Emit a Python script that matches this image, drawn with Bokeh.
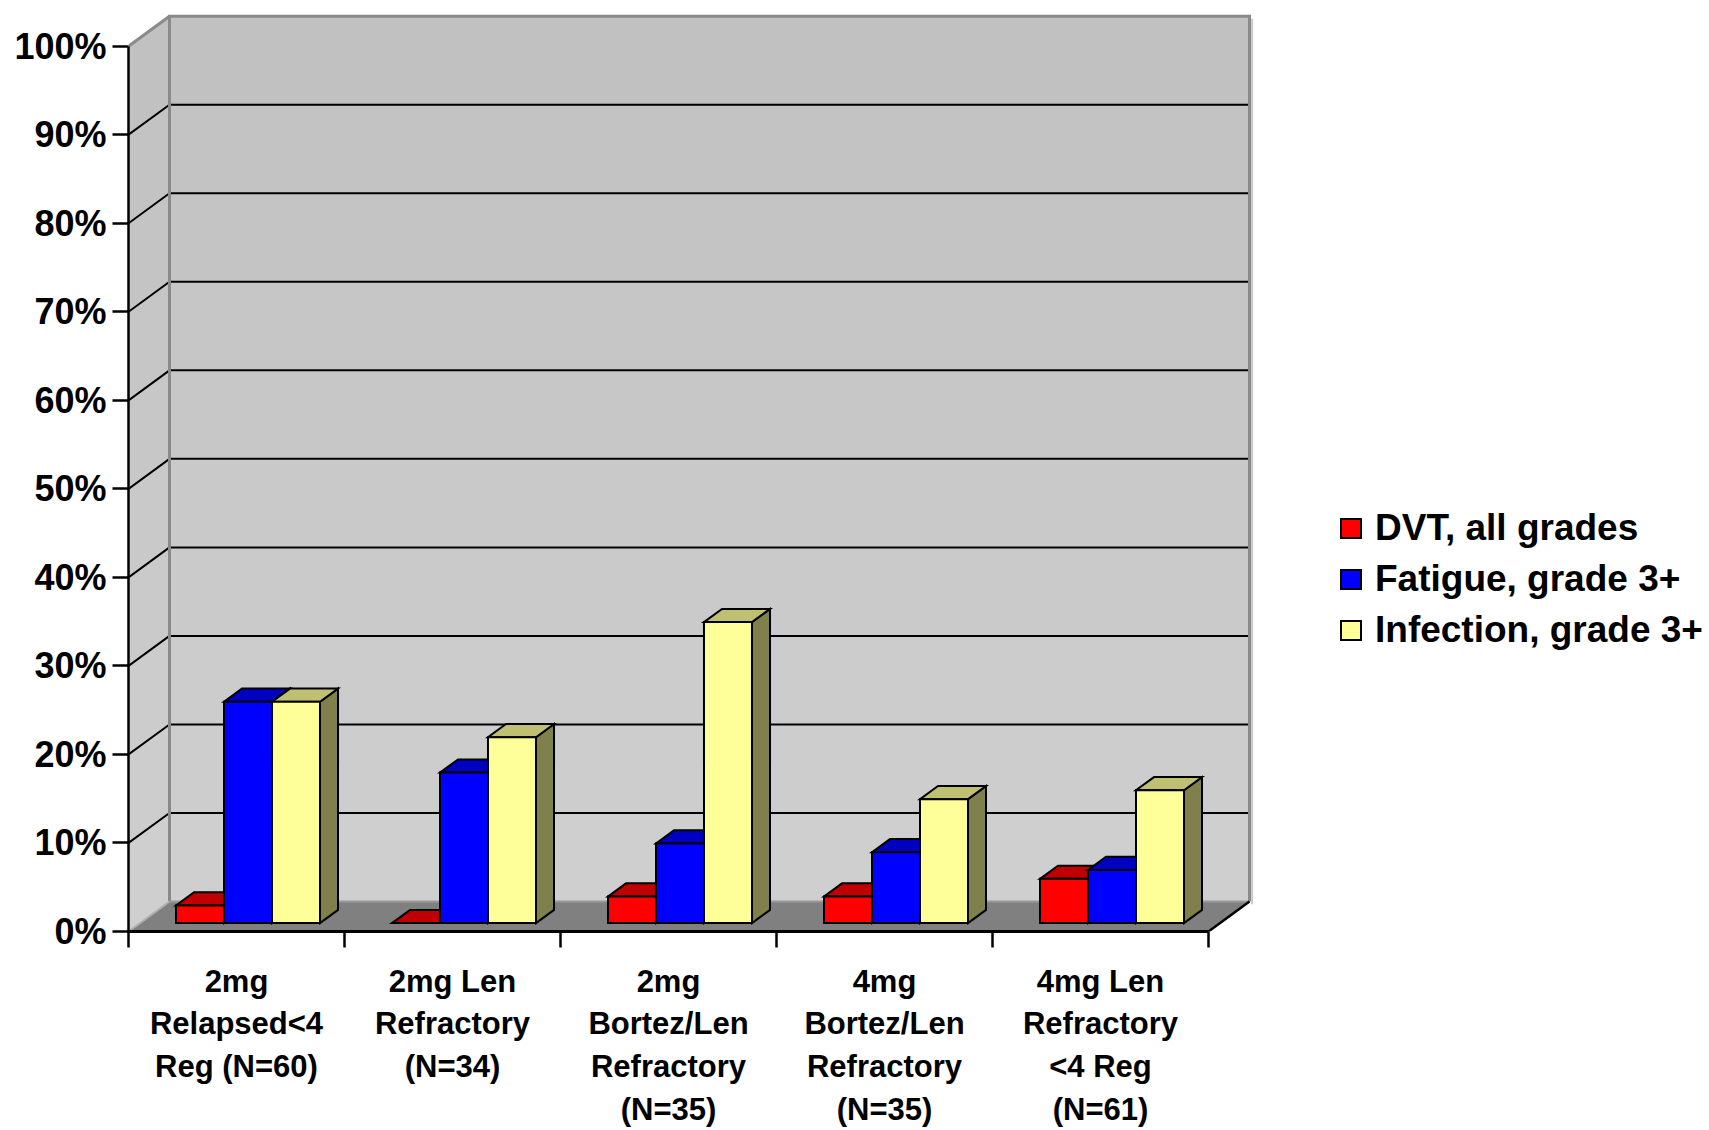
from bokeh.plotting import figure
from bokeh.models import (ColumnDataSource, FixedTicker, Legend, LegendItem,
                          LinearAxis, Range1d)
from bokeh.embed import file_html
from bokeh.resources import INLINE

# ---- data -------------------------------------------------------------
categories = [
    "2mg\nRelapsed<4\nReg (N=60)",
    "2mg Len\nRefractory\n(N=34)",
    "2mg\nBortez/Len\nRefractory\n(N=35)",
    "4mg\nBortez/Len\nRefractory\n(N=35)",
    "4mg Len\nRefractory\n<4 Reg\n(N=61)",
]
dvt = [2, 0, 3, 3, 5]
fatigue = [25, 17, 9, 8, 6]
infection = [25, 21, 34, 14, 15]
series_names = ["DVT, all grades", "Fatigue, grade 3+", "Infection, grade 3+"]
y_ticks = [0, 10, 20, 30, 40, 50, 60, 70, 80, 90, 100]

# ---- styling ----------------------------------------------------------
front_colors = ["#FF0000", "#0000FF", "#FFFF99"]
top_colors = ["#C00000", "#0000C0", "#C0C073"]
side_colors = ["#800000", "#000080", "#80804D"]
FONT = "Liberation Sans"

W, H = 1709, 1130
LEFT = 128           # front value axis, screen x
BASE = 931           # front category axis, screen y
CAT_PX = 216.0       # screen px per category slot
PCT_PX = 8.853       # screen px per percent

# oblique depth of the chart box, in data units
DX = 41.0 / CAT_PX
DY = 30.0 / PCT_PX
F0, F1 = 0.28, 0.72  # bar depth span (fraction of box depth)
BAR_W = 2.0 / 9.0
GROUP_OFF = 1.0 / 6.0
X0 = 0.5             # category i is centred on i + 1
NCAT = len(categories)
X1 = X0 + NCAT

p = figure(width=W, height=H,
           x_range=Range1d(X0, X0 + (W - LEFT) / CAT_PX),
           y_range=Range1d(0, BASE / PCT_PX),
           x_axis_type=None, y_axis_type=None,
           toolbar_location=None, output_backend="svg",
           min_border_left=LEFT, min_border_right=0,
           min_border_top=0, min_border_bottom=H - BASE)
p.outline_line_color = None
p.background_fill_color = "white"
p.border_fill_color = "white"

# ---- walls ------------------------------------------------------------
bands = list(range(0, 100, 10))
shades = []
for k in range(len(bands)):
    g = int(round(207 - (207 - 193) * k / (len(bands) - 1)))
    shades.append("#%02x%02x%02x" % (g, g, g))

back = ColumnDataSource(dict(
    left=[X0 + DX] * len(bands), right=[X1 + DX] * len(bands),
    bottom=[b + DY for b in bands], top=[b + 10 + DY for b in bands],
    color=shades))
p.quad(left="left", right="right", bottom="bottom", top="top",
       fill_color="color", line_color="color", line_width=1, source=back)

side = ColumnDataSource(dict(
    xs=[[X0, X0 + DX, X0 + DX, X0] for b in bands],
    ys=[[b, b + DY, b + 10 + DY, b + 10] for b in bands],
    color=shades))
p.patches("xs", "ys", fill_color="color", line_color="color", line_width=1,
          source=side)

# floor
p.patch([X0, X1, X1 + DX, X0 + DX], [0, 0, DY, DY],
        fill_color="#808080", line_color="#808080", line_width=1)

# gridlines across the side wall and back wall
levels = [v for v in y_ticks if 0 < v < 100]
p.multi_line(xs=[[X0, X0 + DX, X1 + DX] for v in levels],
             ys=[[v, v + DY, v + DY] for v in levels],
             line_color="black", line_width=2)

# wall edges
p.multi_line(xs=[[X0 + DX, X0 + DX, X1 + DX, X1 + DX]],
             ys=[[DY, 100 + DY, 100 + DY, DY]],
             line_color="#8a8a8a", line_width=3, line_join="miter")
p.line([X0, X0 + DX], [100, 100 + DY], line_color="#8a8a8a", line_width=3)
p.line([X1 + DX + 0.012, X1 + DX + 0.012], [DY - 0.3, 100 + DY - 0.3],
       line_color="#c8c8c8", line_width=2)
p.line([X0 + DX, X1 + DX], [DY, DY], line_color="#9a9a9a", line_width=2)
p.line([X0, X0 + DX], [0, DY], line_color="#b0b0b0", line_width=2)
p.line([X1, X1 + DX], [0, DY], line_color="black", line_width=2.5)

# ---- bars -------------------------------------------------------------
legend_items = []
bdx = (F1 - F0) * DX
bdy = (F1 - F0) * DY
for s, vals in enumerate([dvt, fatigue, infection]):
    lefts = [X0 + i + GROUP_OFF + s * BAR_W + F0 * DX for i in range(NCAT)]
    base = F0 * DY
    tops = [v + base for v in vals]
    rights = [l + BAR_W for l in lefts]
    side_src = ColumnDataSource(dict(
        xs=[[r, r + bdx, r + bdx, r] for r in rights],
        ys=[[base, base + bdy, t + bdy, t] for t in tops]))
    top_src = ColumnDataSource(dict(
        xs=[[l, r, r + bdx, l + bdx] for l, r in zip(lefts, rights)],
        ys=[[t, t, t + bdy, t + bdy] for t in tops]))
    p.patches("xs", "ys", source=side_src, fill_color=side_colors[s],
              line_color="black", line_width=2, line_join="miter")
    p.patches("xs", "ys", source=top_src, fill_color=top_colors[s],
              line_color="black", line_width=2, line_join="miter")
    front = p.quad(left=lefts, right=rights, bottom=[base] * NCAT, top=tops,
                   fill_color=front_colors[s], line_color="black",
                   line_width=2, line_join="miter")
    legend_items.append(LegendItem(label=series_names[s], renderers=[front]))

# ---- axes -------------------------------------------------------------
yaxis = LinearAxis(
    ticker=FixedTicker(ticks=y_ticks), bounds=(0, 100),
    major_label_overrides={v: "%d%%" % v for v in y_ticks},
    major_label_text_font=FONT, major_label_text_font_style="bold",
    major_label_text_font_size="36px", major_label_text_color="black",
    major_label_standoff=6,
    major_tick_out=16, major_tick_in=0, minor_tick_out=0, minor_tick_in=0,
    major_tick_line_width=2.5, axis_line_width=2.5,
    axis_line_color="black", major_tick_line_color="black")
p.add_layout(yaxis, "left")

centers = [X0 + 0.5 + i for i in range(NCAT)]
xaxis = LinearAxis(
    ticker=FixedTicker(ticks=[int(round(c)) for c in centers],
                       minor_ticks=[X0 + i for i in range(NCAT + 1)]),
    bounds=(X0, X1),
    major_label_overrides={int(round(c)): lab for c, lab in zip(centers, categories)},
    major_label_text_font=FONT, major_label_text_font_style="bold",
    major_label_text_font_size="31px", major_label_text_color="black",
    major_label_text_line_height=1.22,
    major_label_standoff=16,
    major_tick_out=0, major_tick_in=0, minor_tick_out=16, minor_tick_in=0,
    minor_tick_line_width=2.5, minor_tick_line_color="black",
    axis_line_width=3, axis_line_color="black")
p.add_layout(xaxis, "below")

# ---- legend -----------------------------------------------------------
legend = Legend(items=legend_items, location=(1338 - LEFT, BASE - 651),
                label_text_font=FONT, label_text_font_style="bold",
                label_text_font_size="37px", label_text_color="black",
                glyph_width=25, glyph_height=24, label_standoff=12,
                spacing=9, padding=0, margin=0,
                border_line_color=None, background_fill_alpha=0)
p.add_layout(legend)

open("out.html", "w").write(file_html(p, INLINE))
